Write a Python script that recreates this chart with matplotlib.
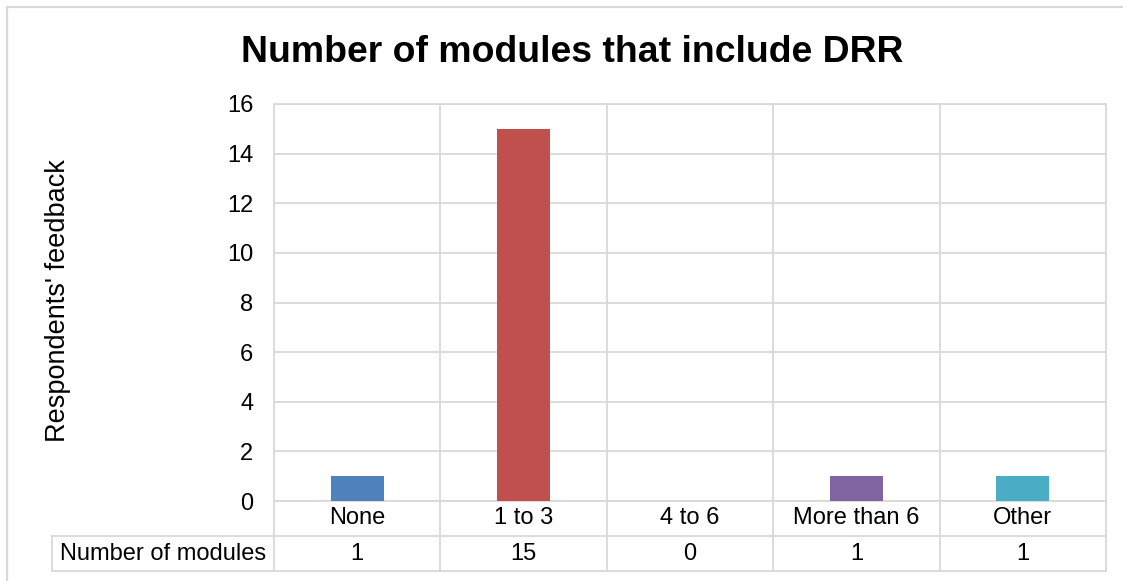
import matplotlib
matplotlib.use("Agg")
import matplotlib.pyplot as plt
from matplotlib.lines import Line2D
from matplotlib.patches import Rectangle

categories = ["None", "1 to 3", "4 to 6", "More than 6", "Other"]
counts = [1, 15, 0, 1, 1]
colors = ["#4F81BD", "#C0504D", "#9BBB59", "#8064A2", "#4BACC6"]
series_name = "Number of modules"
yticks = [0, 2, 4, 6, 8, 10, 12, 14, 16]

plt.rcParams["font.family"] = ["Liberation Sans", "DejaVu Sans"]
GRID = "#d9d9d9"
FS = 17

W, H = 1123, 581
fig = plt.figure(figsize=(W / 100, H / 100), dpi=100)

# chart area frame (runs off the right and bottom edges)
fig.add_artist(Rectangle((7 / W, -0.05), 1.2, 1 - 7 / H + 0.05, transform=fig.transFigure,
                         fill=False, edgecolor=GRID, linewidth=1.6))

left, right, top, bottom = 274, 1106, 104, 501
ax = fig.add_axes([left / W, 1 - bottom / H, (right - left) / W, (bottom - top) / H])

x = list(range(len(categories)))
ax.bar(x, counts, width=0.32, color=colors, zorder=3)
ax.set_xlim(-0.5, len(categories) - 0.5)
ax.set_ylim(0, 16)
ax.set_yticks(yticks)
ax.set_yticklabels([str(t) for t in yticks], fontsize=FS)
ax.tick_params(axis="y", length=0, pad=15)
ax.set_xticks([])
ax.yaxis.grid(True, color=GRID, linewidth=1.3, zorder=0)
for s in ax.spines.values():
    s.set_visible(False)

fig.text(58 / W, 1 - 301 / H, "Respondents' feedback", rotation=90,
         ha="center", va="center", fontsize=19.5)

# data table drawn beneath the plot area
row_h = 35 / (bottom - top)          # row height in axes fraction
tr = ax.get_xaxis_transform()
line_kw = dict(color=GRID, linewidth=1.3, transform=tr, clip_on=False, zorder=1)
label_left = -0.5 - (left - 52) / ((right - left) / len(categories))

# vertical separators from top of plot through both rows
for b in [i - 0.5 for i in range(len(categories) + 1)]:
    ax.add_line(Line2D([b, b], [1, -2 * row_h], **line_kw))
# top grid line and row separators
ax.add_line(Line2D([-0.5, 4.5], [1, 1], **line_kw))
ax.add_line(Line2D([-0.5, 4.5], [0, 0], **line_kw))
ax.add_line(Line2D([label_left, 4.5], [-row_h, -row_h], **line_kw))
ax.add_line(Line2D([label_left, 4.5], [-2 * row_h, -2 * row_h], **line_kw))
ax.add_line(Line2D([label_left, label_left], [-row_h, -2 * row_h], **line_kw))

for i, (c, v) in enumerate(zip(categories, counts)):
    ax.text(i, -0.5 * row_h, c, transform=tr, ha="center", va="center", fontsize=FS)
    ax.text(i, -1.5 * row_h, str(v), transform=tr, ha="center", va="center", fontsize=FS)
ax.text((label_left - 0.5) / 2, -1.5 * row_h, series_name, transform=tr,
        ha="center", va="center", fontsize=FS)

fig.text(572 / W, 1 - 62 / H, "Number of modules that include DRR",
         ha="center", va="baseline", fontsize=26.9, fontweight="bold")

fig.savefig("out.png", dpi=100)
